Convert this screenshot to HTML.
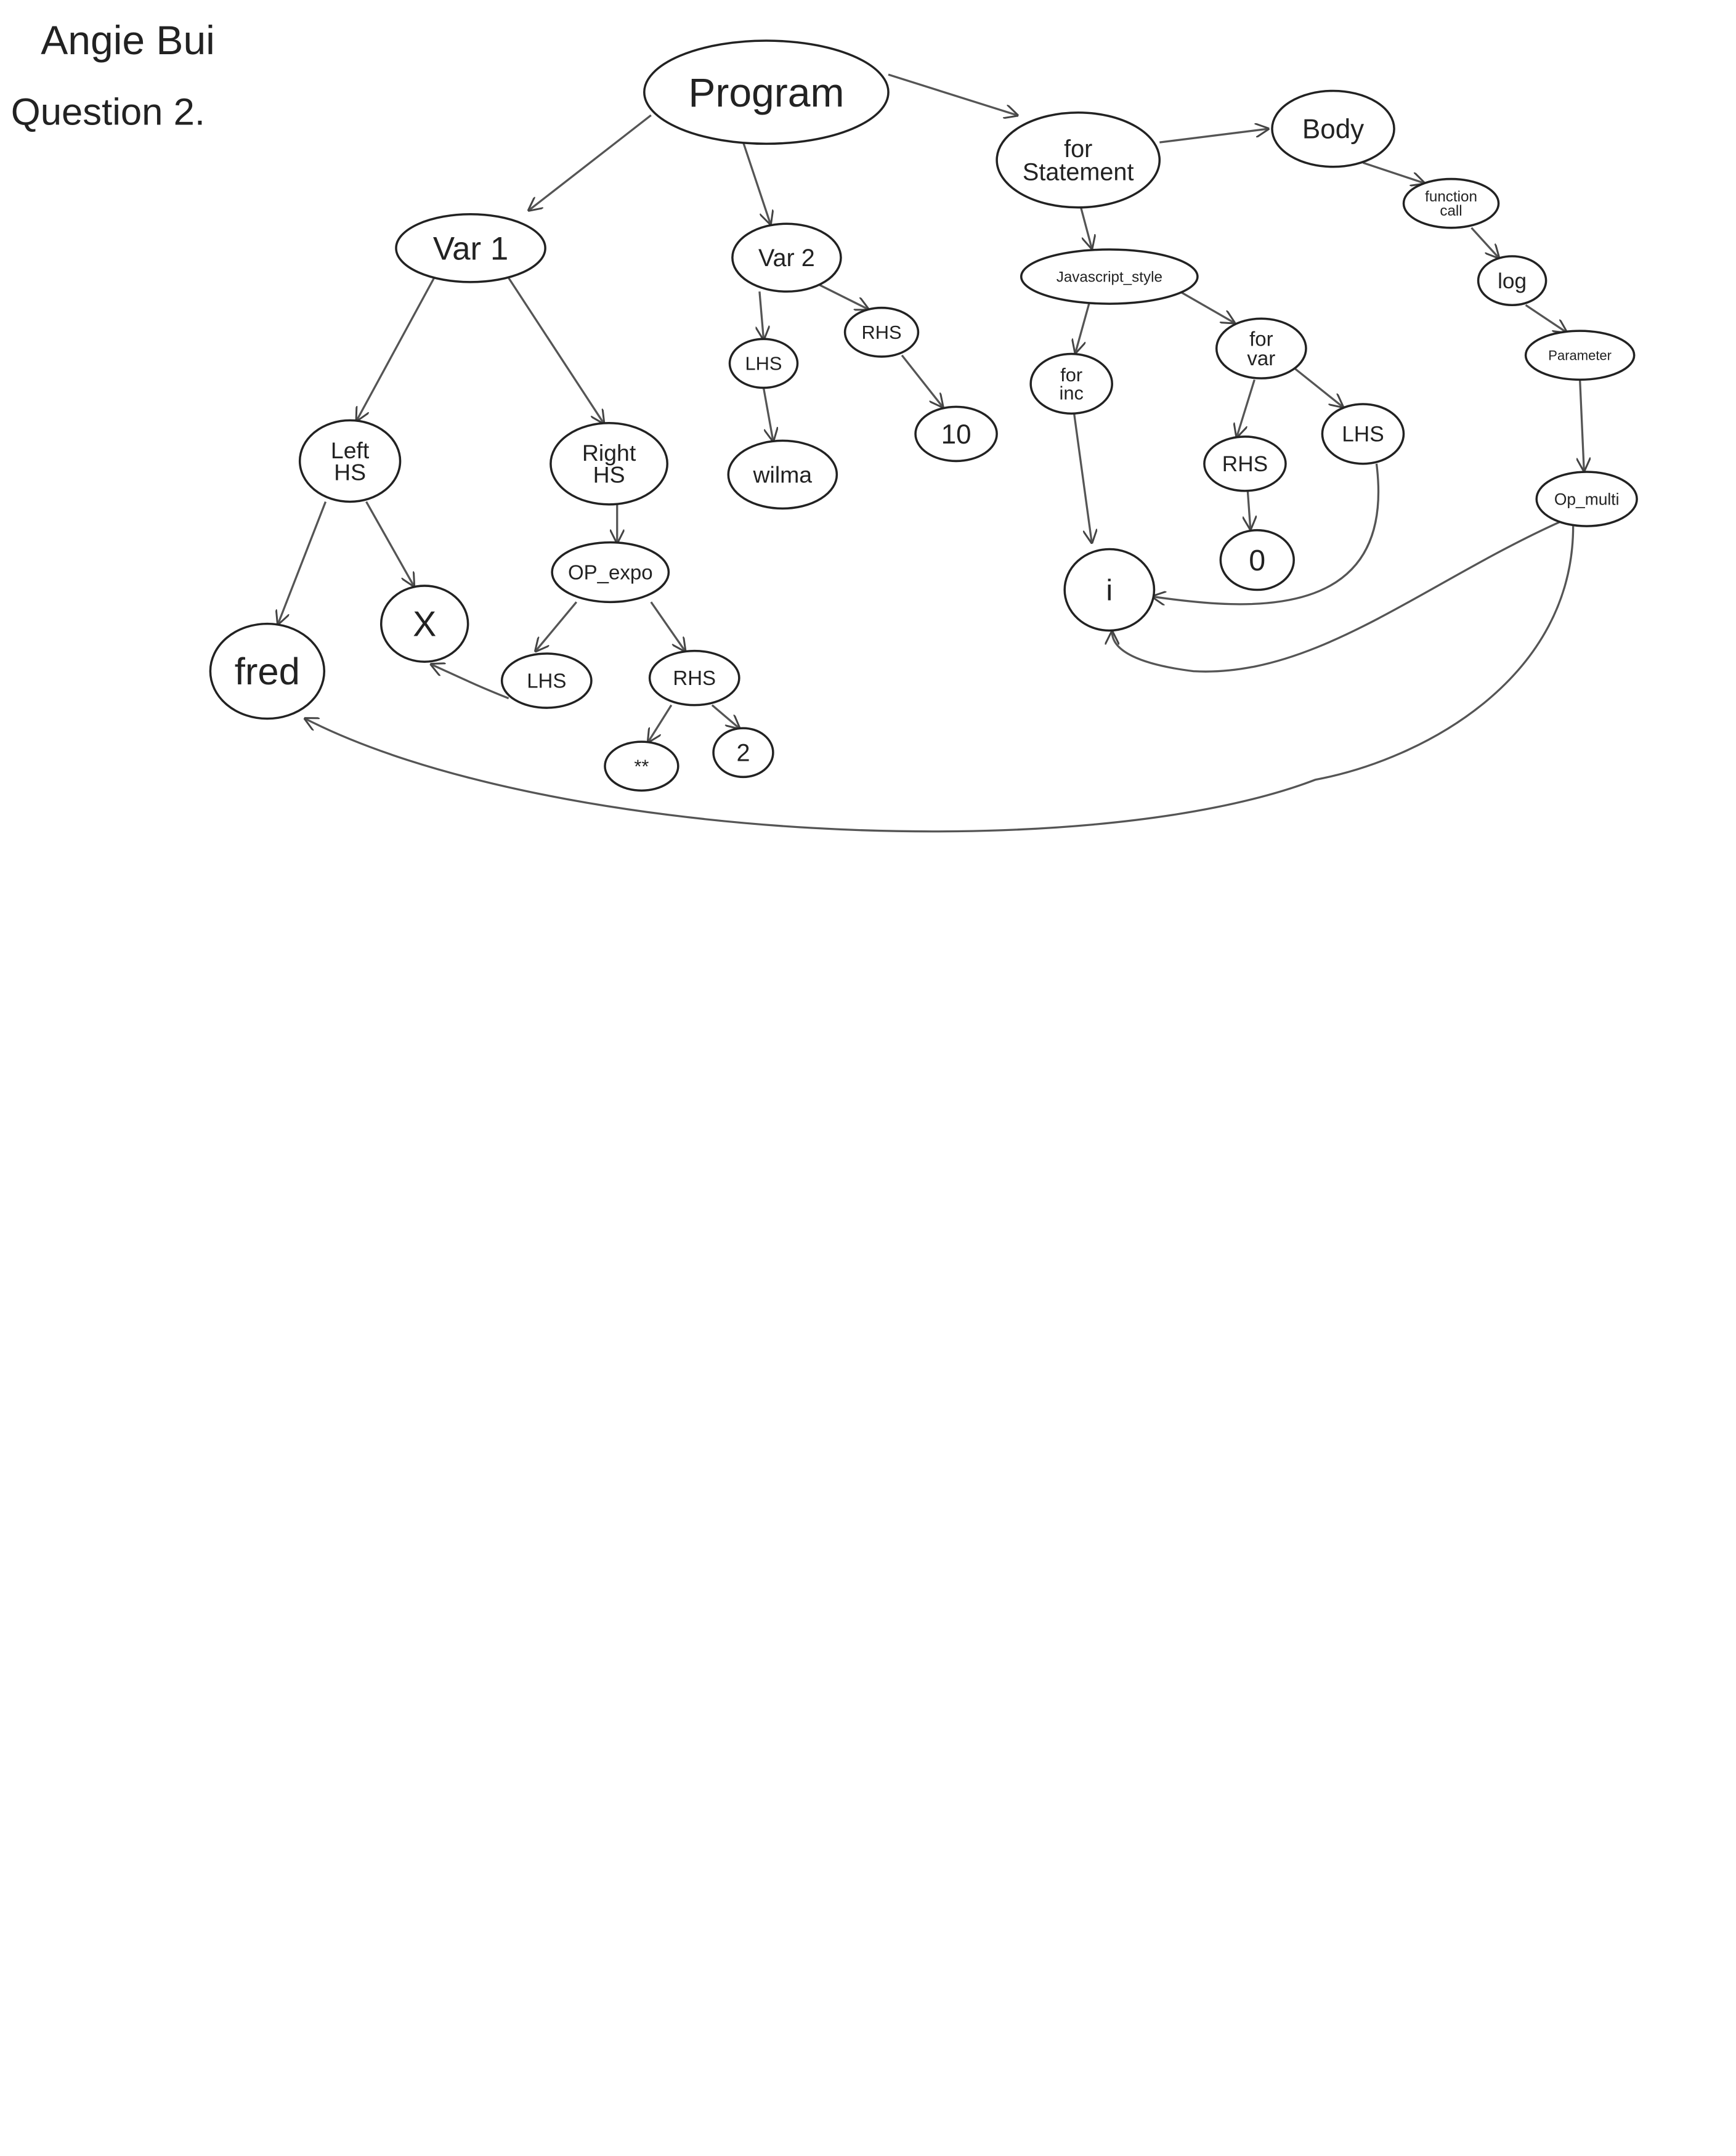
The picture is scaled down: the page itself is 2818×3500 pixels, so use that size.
<!DOCTYPE html>
<html><head><meta charset="utf-8"><style>
html,body{margin:0;padding:0;background:#fff;}
svg{display:block;}
text{font-family:"Liberation Sans",sans-serif;fill:#222;}
</style></head><body>
<svg width="2818" height="3500" viewBox="0 0 1280 1590" xmlns="http://www.w3.org/2000/svg">
<defs><marker id="ar" viewBox="0 0 10 10" refX="9" refY="5" markerWidth="7" markerHeight="7" orient="auto"><path d="M0,0 L10,5 L0,10" fill="none" stroke="#444" stroke-width="1.3"/></marker></defs>
<rect width="1280" height="1590" fill="#fff"/>
<text x="30" y="40" font-size="30">Angie Bui</text>
<text x="8" y="92" font-size="28">Question 2.</text>
<g id="edges" fill="none" stroke="#555" stroke-width="1.5" marker-end="url(#ar)"></g>
<g id="nodes"></g>
</svg>
<script>
const nodes=[
["program","Program",565,68,90,38,30],
["var1","Var 1",347,183,55,25,24],
["var2","Var 2",580,190,40,25,18],
["forstmt","for\nStatement",795,118,60,35,18],
["body","Body",983,95,45,28,20],
["fcall","function\ncall",1070,150,35,18,11],
["log","log",1115,207,25,18,16],
["param","Parameter",1165,262,40,18,10],
["opmulti","Op_multi",1170,368,37,20,12],
["jstyle","Javascript_style",818,204,65,20,11],
["forinc","for\ninc",790,283,30,22,14],
["forvar","for\nvar",930,257,33,22,15],
["lhs3","LHS",1005,320,30,22,16],
["rhs3","RHS",918,342,30,20,16],
["zero","0",927,413,27,22,22],
["i","i",818,435,33,30,22],
["lhs2","LHS",563,268,25,18,14],
["rhs2","RHS",650,245,27,18,14],
["wilma","wilma",577,350,40,25,17],
["ten","10",705,320,30,20,20],
["lefths","Left\nHS",258,340,37,30,17],
["righths","Right\nHS",449,342,43,30,17],
["opexpo","OP_expo",450,422,43,22,15],
["x","X",313,460,32,28,26],
["fred","fred",197,495,42,35,28],
["lhs1","LHS",403,502,33,20,15],
["rhs1","RHS",512,500,33,20,15],
["star","**",473,565,27,18,14],
["two","2",548,555,22,18,18]];
const edges=[["M480,85 L390,155"],["M548,105 L568,165"],["M655,55 L750,85"],["M855,105 L935,95"],["M1005,120 L1050,135"],["M1085,168 L1105,190"],["M1125,225 L1155,245"],["M1165,280 L1168,347"],
["M797,153 L805,183"],["M803,224 L793,260"],["M870,215 L910,238"],["M925,280 L912,322"],["M955,272 L990,300"],["M920,362 L922,390"],
["M1015,342 C1030,460 920,450 850,440"],["M792,305 L805,400"],["M1150,385 C1050,430 970,500 880,495 C840,490 820,480 820,466"],
["M1160,388 C1160,500 1050,560 970,575 C800,640 400,620 225,530"],
["M560,215 L563,250"],["M600,208 L640,228"],["M563,286 L570,325"],["M665,262 L695,300"],
["M320,205 L263,310"],["M375,205 L445,312"],["M240,370 L205,460"],["M270,370 L305,432"],["M455,372 L455,400"],["M425,444 L395,480"],["M480,444 L505,480"],["M375,515 C350,505 340,500 318,490"],["M495,520 L478,547"],["M525,520 L545,537"]];
const ns="http://www.w3.org/2000/svg";
const eg=document.getElementById('edges');
edges.forEach((e,k)=>{const p=document.createElementNS(ns,'path');p.setAttribute('d',e[0]);


eg.appendChild(p);});
const ng=document.getElementById('nodes');
nodes.forEach(n=>{const g=document.createElementNS(ns,'g');


const el=document.createElementNS(ns,'ellipse');el.setAttribute('cx',n[2]);el.setAttribute('cy',n[3]);el.setAttribute('rx',n[4]);el.setAttribute('ry',n[5]);el.setAttribute('fill','#fff');el.setAttribute('stroke','#222');el.setAttribute('stroke-width','1.6');g.appendChild(el);
const lines=n[1].split('\n');lines.forEach((l,j)=>{const t=document.createElementNS(ns,'text');t.setAttribute('x',n[2]);t.setAttribute('y',n[3]+n[6]*0.35+(j-(lines.length-1)/2)*n[6]*0.95);t.setAttribute('text-anchor','middle');t.setAttribute('font-size',n[6]);t.textContent=l;g.appendChild(t);});
ng.appendChild(g);});
</script>
</body></html>
